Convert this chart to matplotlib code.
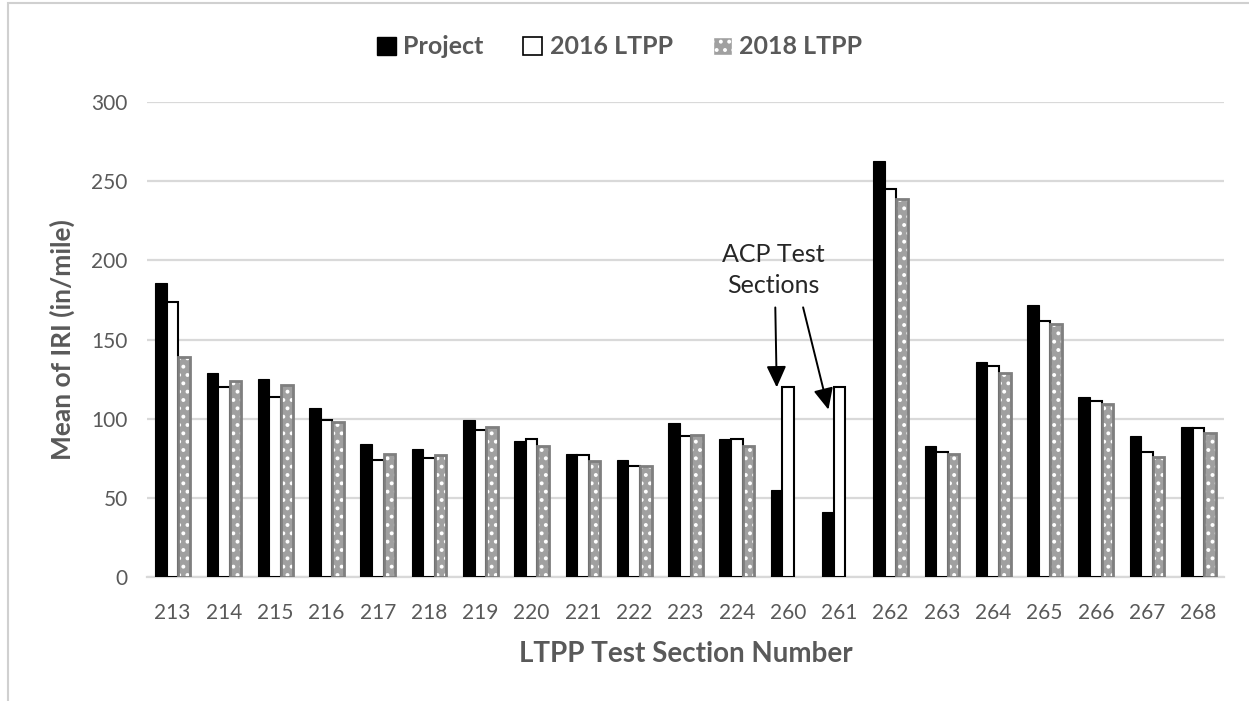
import matplotlib
matplotlib.use("Agg")
import matplotlib.pyplot as plt
from matplotlib.patches import Patch, Rectangle
import numpy as np

# mean IRI per LTPP test section
sections = ["213", "214", "215", "216", "217", "218", "219", "220", "221", "222", "223",
            "224", "260", "261", "262", "263", "264", "265", "266", "267", "268"]
project = [186, 129, 125, 107, 84, 81, 99, 86, 78, 74, 97,
           87, 55, 41, 263, 83, 136, 172, 114, 89, 95]
ltpp_2016 = [174, 120, 114, 99, 74, 75, 93, 87, 77, 70, 89,
             87, 120, 120, 245, 79, 133, 162, 111, 79, 94]
ltpp_2018 = [139, 124, 121, 98, 78, 77, 95, 83, 73, 70, 90,
             83, np.nan, np.nan, 239, 78, 129, 160, 109, 76, 91]

grey = "#595959"
grid_col = "#d9d9d9"
plt.rcParams['font.family'] = ['Lato', 'DejaVu Sans']
plt.rcParams['hatch.linewidth'] = 1.6

fig = plt.figure(figsize=(12.49, 7.01), dpi=100)
ax = fig.add_axes([147 / 1249, 1 - 577 / 701, (1224 - 147) / 1249, (577 - 102) / 701])

x = np.arange(len(sections))
w = 0.225

ax.bar(x - w, project, w, color="black", edgecolor="black", linewidth=0.8, zorder=3)
ax.bar(x, ltpp_2016, w, color="white", edgecolor="black", linewidth=1.5, zorder=3)
# checkered grey bars: grey fill with white dotted hatch, then grey outline
ax.bar(x + w, ltpp_2018, w, color="#a0a0a0", edgecolor="white", hatch="..",
       linewidth=0, zorder=3)
ax.bar(x + w, ltpp_2018, w, fill=False, edgecolor="#7f7f7f", linewidth=2.0, zorder=4)

ax.set_xlim(-0.5, len(sections) - 0.5)
ax.set_ylim(0, 300)
ax.set_yticks(np.arange(0, 301, 50))
ax.set_xticks(x)
ax.set_xticklabels(sections)
ax.yaxis.grid(True, color=grid_col, linewidth=1.6, zorder=0)
ax.set_axisbelow(True)
for s in ["top", "right", "left"]:
    ax.spines[s].set_visible(False)
ax.spines["bottom"].set_color(grid_col)
ax.spines["bottom"].set_linewidth(1.6)
ax.tick_params(axis="x", length=0, labelsize=15, colors=grey, pad=19)
ax.tick_params(axis="y", length=0, labelsize=15, colors=grey, pad=14)

ax.set_xlabel("LTPP Test Section Number", fontsize=20, fontweight="bold", color=grey, labelpad=13)
ax.set_ylabel("Mean of IRI (in/mile)", fontsize=19, fontweight="bold", color=grey, labelpad=12)

# callout for the ACP sections
ax.text(11.71, 194, "ACP Test\nSections", fontsize=18, color="#262626",
        ha="center", va="center", linespacing=1.45)
arrow = dict(arrowstyle="-|>,head_length=1.3,head_width=0.6", color="black", lw=1.4)
ax.annotate("", xy=(11.78, 118), xytext=(11.75, 172), arrowprops=arrow)
ax.annotate("", xy=(12.8, 104), xytext=(12.28, 172), arrowprops=arrow)

handles = [Patch(facecolor="black", edgecolor="black"),
           Patch(facecolor="white", edgecolor="black", linewidth=1.2),
           Patch(facecolor="#a0a0a0", edgecolor="white", hatch="..")]
fig.legend(handles, ["Project", "2016 LTPP", "2018 LTPP"], loc="center",
           bbox_to_anchor=(0.496, 1 - 47 / 701), ncol=3, frameon=False,
           handlelength=0.75, handleheight=0.75, handletextpad=0.3, columnspacing=1.6,
           prop={"size": 18, "weight": "bold"}, labelcolor=grey)

# light frame around the figure
fig.patches.append(Rectangle((8 / 1249, -0.01), 1.1, 1 - 3 / 701 + 0.01, transform=fig.transFigure,
                             fill=False, edgecolor="#d0d0d0", linewidth=1.5))

fig.savefig("out.png", dpi=100)
